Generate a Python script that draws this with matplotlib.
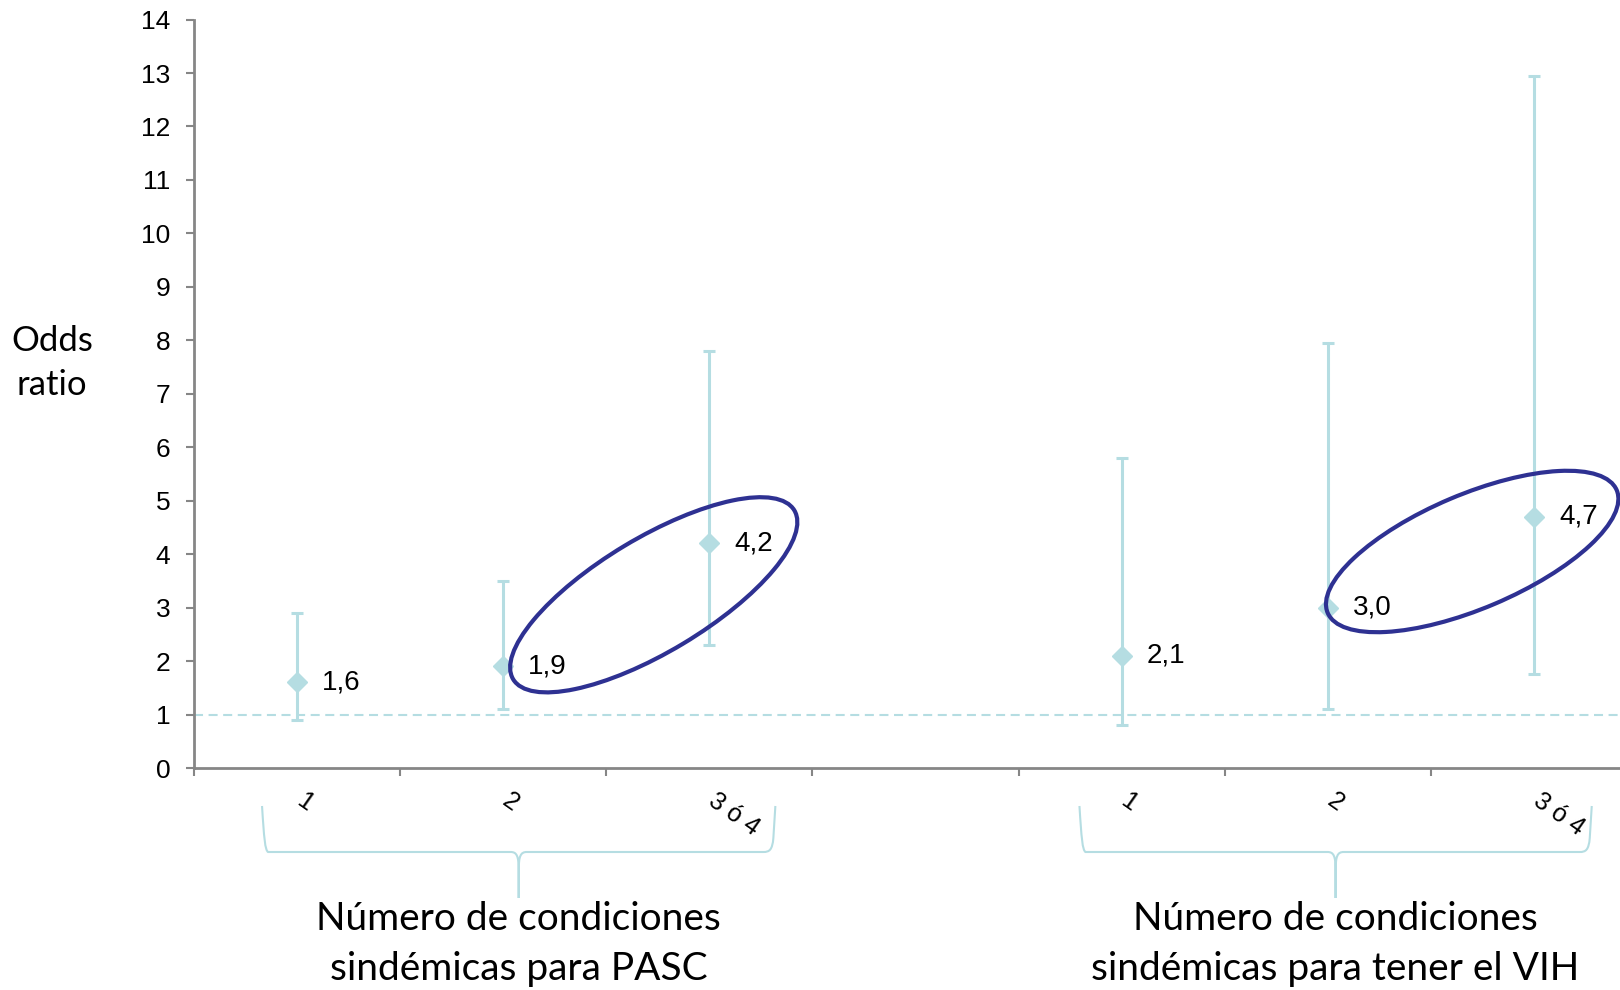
import numpy as np
import matplotlib
matplotlib.use('Agg')
import matplotlib.pyplot as plt
import matplotlib.transforms as mtransforms
from matplotlib.patches import Ellipse, PathPatch
from matplotlib.path import Path

# Data
categories = ['1', '2', '3 ó 4']
group_titles = ['Número de condiciones\nsindémicas para PASC',
                'Número de condiciones\nsindémicas para tener el VIH']
pasc_or = [1.6, 1.9, 4.2]
pasc_low = [0.9, 1.1, 2.3]
pasc_high = [2.9, 3.5, 7.8]
vih_or = [2.1, 3.0, 4.7]
vih_low = [0.8, 1.1, 1.75]
vih_high = [5.8, 7.95, 12.95]
y_ticks = list(range(0, 15))

TEAL = '#b5dde2'
NAVY = '#2e3192'
GREY = '#868686'
W, H = 1620, 990

plt.rcParams['lines.scale_dashes'] = False

fig = plt.figure(figsize=(W / 100, H / 100), dpi=100)
ax = fig.add_axes([194 / W, 222 / H, 1 - 194 / W, 0.756])

groups = [
    (np.array([0, 1, 2]), pasc_or, pasc_low, pasc_high),
    (np.array([4, 5, 6]), vih_or, vih_low, vih_high),
]
brace_pads = [(0.17, 0.32), (0.205, 0.28)]

ax.axhline(1, color=TEAL, lw=1.5, ls=(0, (6.5, 4)), zorder=1)

for xs, ors, lows, highs in groups:
    ors = np.array(ors)
    yerr = [ors - np.array(lows), np.array(highs) - ors]
    ax.errorbar(xs, ors, yerr=yerr, fmt='D', color=TEAL, ms=10, mec=TEAL,
                elinewidth=2.2, capsize=4.3, capthick=2.2, zorder=3)
    for x, v in zip(xs, ors):
        ax.annotate(f'{v:.1f}'.replace('.', ','), (x, v), xytext=(25, 0),
                    textcoords='offset pixels', va='center', ha='left',
                    fontsize=20, family='Liberation Sans')
    for x, lab in zip(xs, categories):
        ax.text(x - 0.025, -0.027, lab, transform=ax.get_xaxis_transform(),
                rotation=-35, ha='left', va='top', fontsize=18,
                family='Liberation Sans')

ax.set_xlim(-0.5, 6.417)
ax.set_ylim(0, 14)
ax.set_yticks(y_ticks)
ax.set_yticklabels([str(t) for t in y_ticks], fontsize=19, family='Liberation Sans')
ax.set_xticks(np.arange(-0.5, 6.0, 1.0))
ax.set_xticklabels([])
ax.tick_params(axis='both', direction='out', length=6, width=1.5, color=GREY)
ax.tick_params(axis='y', pad=11)
for side in ['top', 'right']:
    ax.spines[side].set_visible(False)
for side in ['left', 'bottom']:
    ax.spines[side].set_color(GREY)
    ax.spines[side].set_linewidth(2)

# highlight ellipses (center in data units, size in pixels)
ellipses = [((1.73, 3.24), 328, 114, 31), ((5.70, 4.05), 314, 114, 23)]
for (cx, cy), ew, eh, ang in ellipses:
    tr = fig.dpi_scale_trans + mtransforms.ScaledTranslation(cx, cy, ax.transData)
    ax.add_patch(Ellipse((0, 0), ew / 100, eh / 100, angle=ang, fill=False,
                         ec=NAVY, lw=3, transform=tr, clip_on=False, zorder=4))

# curly braces under each group
y_top, y_mid, y_tip = 806, 852, 898


def fpt(x, y):
    return (x / W, 1 - y / H)


for (xs, *_), (pl, pr), title in zip(groups, brace_pads, group_titles):
    L = ax.transData.transform((xs[0] - pl, 0))[0]
    R = ax.transData.transform((xs[-1] + pr, 0))[0]
    C = (L + R) / 2
    verts = [(L, y_top), (L + 2, y_mid - 14), (L + 3, y_mid - 2), (L + 6, y_mid),
             (L + 12, y_mid), (C - 8, y_mid),
             (C - 2, y_mid), (C, y_mid + 4), (C, y_mid + 18), (C, y_tip),
             (C, y_mid + 18), (C, y_mid + 4), (C + 2, y_mid), (C + 8, y_mid),
             (R - 12, y_mid), (R - 6, y_mid), (R - 3, y_mid - 2), (R - 2, y_mid - 14),
             (R, y_top)]
    codes = [Path.MOVETO, Path.CURVE4, Path.CURVE4, Path.CURVE4,
             Path.LINETO, Path.LINETO,
             Path.CURVE4, Path.CURVE4, Path.CURVE4, Path.LINETO,
             Path.LINETO, Path.CURVE4, Path.CURVE4, Path.CURVE4,
             Path.LINETO, Path.CURVE4, Path.CURVE4, Path.CURVE4,
             Path.LINETO]
    path = Path([fpt(*v) for v in verts], codes)
    fig.add_artist(PathPatch(path, fill=False, ec=TEAL, lw=1.5,
                             transform=fig.transFigure))
    fig.text(C / W, 1 - 944 / H, title, ha='center', va='center',
             fontsize=28, family='Lato', linespacing=1.45)

fig.text(52 / W, 1 - 363 / H, 'Odds\nratio', ha='center', va='center',
         fontsize=25, family='Lato', linespacing=1.45)

fig.savefig('out.png', dpi=100)
